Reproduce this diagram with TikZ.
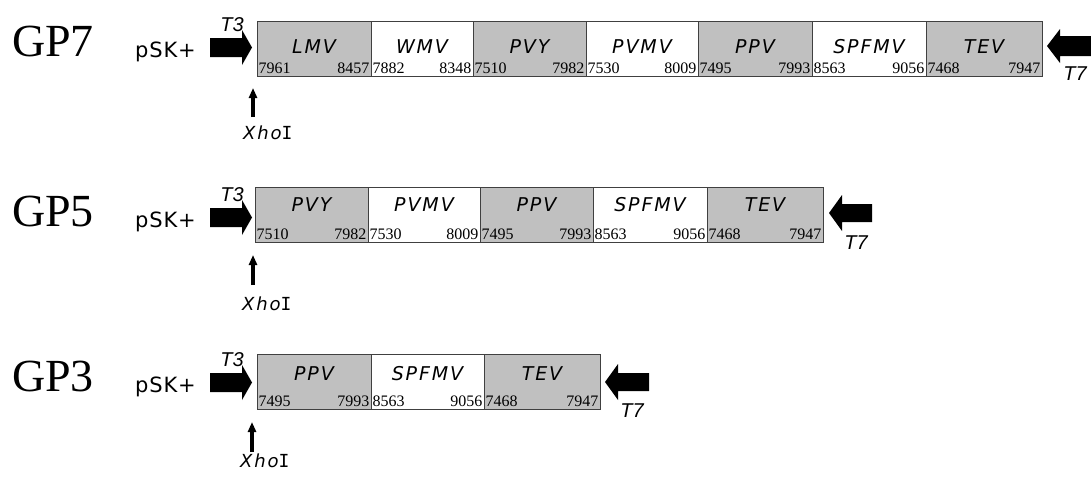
\documentclass[tikz,border=0pt]{standalone}
\usepackage{fontspec}
\setmainfont{Liberation Serif}
\newfontfamily\comic[LetterSpace=10]{DejaVu Sans}
\newfontfamily\comicp[LetterSpace=4]{DejaVu Sans}
\newfontfamily\monof{DejaVu Sans Mono}
\newfontfamily\arialf{Liberation Sans}
\usetikzlibrary{calc,arrows.meta}
\definecolor{segfill}{HTML}{C0C0C0}
\definecolor{segline}{HTML}{404040}
\tikzset{
 seg/.style={draw=segline, line width=0.9pt, inner sep=0pt, outer sep=0pt, anchor=north west, minimum height=55pt},
 lab/.style={inner sep=0pt, font=\comic\itshape\fontsize{19}{19}\selectfont},
 num/.style={inner sep=0pt, font=\fontsize{16}{16}\selectfont},
 gp/.style={inner sep=0pt, anchor=west, font=\fontsize{46}{46}\selectfont},
 psk/.style={inner sep=0pt, anchor=base west, font=\comicp\fontsize{21}{21}\selectfont},
 prom/.style={inner sep=0pt, font=\arialf\itshape\fontsize{20}{20}\selectfont},
 xho/.style={line width=3.5pt, -{Triangle[length=10pt,width=8pt]}},
 xlab/.style={inner sep=0pt, anchor=west, font=\comic\fontsize{18}{18}\selectfont},
 blockarrow/.style={fill=black},
}
\newcommand\xhotext{{\itshape Xho}{\monof I}}
\begin{document}
\begin{tikzpicture}[x=1pt,y=-1pt]
\useasboundingbox (0,0) rectangle (1091,479);

% ---------- GP7 ----------
\node[gp] (gp7) at (12,41.5) {GP7};
\node[psk] (psk7) at (135,57) {pSK+};
\fill[blockarrow] (210,38) -- (242,38) -- (242,30) -- (252,47.5) -- (242,65) -- (242,57) -- (210,57) -- cycle;
\node[prom] (t3a) at (232,25) {T3};
\foreach \i/\xa/\xb/\lab/\na/\nb in {1/257/371/LMV/7961/8457, 2/371/473/WMV/7882/8348, 3/473/586/PVY/7510/7982, 4/586/698/PVMV/7530/8009, 5/698/812/PPV/7495/7993, 6/812/926/SPFMV/8563/9056, 7/926/1042/TEV/7468/7947}{
 \ifodd\i\relax \def\fc{segfill}\else \def\fc{white}\fi
 \node[seg, fill=\fc, minimum width={(\xb-\xa)*1pt}] (g7s\i) at (\xa,21) {};
 \node[lab] (g7l\i) at ($(g7s\i.north)+(0,25.5)$) {\lab};
 \node[num, anchor=base west] (g7a\i) at ($(g7s\i.south west)+(1.5,-3)$) {\na};
 \node[num, anchor=base east] (g7b\i) at ($(g7s\i.south east)+(-1.5,-3)$) {\nb};
}
\fill[blockarrow] (1047,46) -- (1060,29) -- (1060,36) -- (1091,36) -- (1091,56) -- (1060,56) -- (1060,63) -- cycle;
\node[prom] (t7a) at (1075,74) {T7};
\coordinate (x7b) at (253,117);
\coordinate (x7t) at (253,88);
\draw[xho] (x7b) -- (x7t);
\node[xlab] (xl7) at (243,133) {\xhotext};

% ---------- GP5 ----------
\node[gp] (gp5) at (12,211.5) {GP5};
\node[psk] (psk5) at (135,227) {pSK+};
\fill[blockarrow] (210,208) -- (242,208) -- (242,200) -- (252,217.5) -- (242,235) -- (242,227) -- (210,227) -- cycle;
\node[prom] (t3b) at (232,195) {T3};
\foreach \i/\xa/\xb/\lab/\na/\nb in {1/255/368/PVY/7510/7982, 2/368/480/PVMV/7530/8009, 3/480/593/PPV/7495/7993, 4/593/707/SPFMV/8563/9056, 5/707/823/TEV/7468/7947}{
 \ifodd\i\relax \def\fc{segfill}\else \def\fc{white}\fi
 \node[seg, fill=\fc, minimum width={(\xb-\xa)*1pt}] (g5s\i) at (\xa,187.5) {};
 \node[lab] (g5l\i) at ($(g5s\i.north)+(0,17)$) {\lab};
 \node[num, anchor=base west] (g5a\i) at ($(g5s\i.south west)+(1.5,-3)$) {\na};
 \node[num, anchor=base east] (g5b\i) at ($(g5s\i.south east)+(-1.5,-3)$) {\nb};
}
\fill[blockarrow] (829,213) -- (842,195) -- (842,204) -- (872,204) -- (872,222) -- (842,222) -- (842,231) -- cycle;
\node[prom] (t7b) at (856,243) {T7};
\coordinate (x5b) at (253,285);
\coordinate (x5t) at (253,255);
\draw[xho] (x5b) -- (x5t);
\node[xlab] (xl5) at (242,304) {\xhotext};

% ---------- GP3 ----------
\node[gp] (gp3) at (12,376.5) {GP3};
\node[psk] (psk3) at (135,392) {pSK+};
\fill[blockarrow] (210,373) -- (242,373) -- (242,365) -- (252,382.5) -- (242,400) -- (242,392) -- (210,392) -- cycle;
\node[prom] (t3c) at (232,360) {T3};
\foreach \i/\xa/\xb/\lab/\na/\nb in {1/257/371/PPV/7495/7993, 2/371/484/SPFMV/8563/9056, 3/484/600/TEV/7468/7947}{
 \ifodd\i\relax \def\fc{segfill}\else \def\fc{white}\fi
 \node[seg, fill=\fc, minimum width={(\xb-\xa)*1pt}] (g3s\i) at (\xa,354.5) {};
 \node[lab] (g3l\i) at ($(g3s\i.north)+(0,19)$) {\lab};
 \node[num, anchor=base west] (g3a\i) at ($(g3s\i.south west)+(1.5,-3)$) {\na};
 \node[num, anchor=base east] (g3b\i) at ($(g3s\i.south east)+(-1.5,-3)$) {\nb};
}
\fill[blockarrow] (605,382) -- (618,364) -- (618,373) -- (649,373) -- (649,391) -- (618,391) -- (618,400) -- cycle;
\node[prom] (t7c) at (632,411) {T7};
\coordinate (x3b) at (252,452);
\coordinate (x3t) at (252,422);
\draw[xho] (x3b) -- (x3t);
\node[xlab] (xl3) at (240,461) {\xhotext};
\end{tikzpicture}
\end{document}
